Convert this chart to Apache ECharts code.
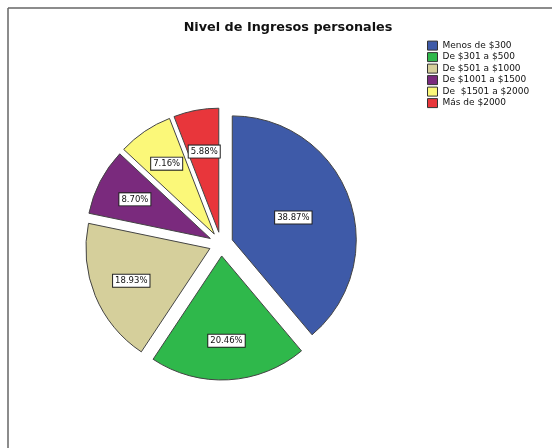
<!DOCTYPE html>
<html>
<head>
<meta charset="utf-8">
<script src="https://cdn.jsdelivr.net/npm/echarts@6/dist/echarts.min.js"></script>
<style>
  html, body { margin: 0; padding: 0; background: #fff; }
  #ingresos { width: 552px; height: 448px; }
</style>
</head>
<body>
<div id="ingresos"></div>
<script>
// categorias y porcentajes
const categorias = ['Menos de $300', 'De $301 a $500', 'De $501 a $1000', 'De $1001 a $1500', 'De  $1501 a $2000', 'Más de $2000'];
const porcentajes = [38.87, 20.46, 18.93, 8.70, 7.16, 5.88];
const colores = ['#3e5aa8', '#2fb84b', '#d5cf9b', '#7a2a7d', '#fbf879', '#e8363b'];

const chart = echarts.init(document.getElementById('ingresos'));

const fmt = p => p.value.toFixed(2) + '%';
const etiqueta = {
    position: 'inside',
    formatter: fmt,
    fontFamily: 'DejaVu Sans',
    fontSize: 8.5,
    color: '#111',
    backgroundColor: '#fff',
    borderColor: '#222',
    borderWidth: 1,
    padding: [2, 2, 1, 2]
};

// serie visible (sin etiquetas salvo la grande)
const datosPie = categorias.map((c, i) => ({
    name: c,
    value: porcentajes[i],
    selected: true,
    itemStyle: { color: colores[i] },
    label: { show: i === 0 }
}));
// serie transparente solo para colocar etiquetas mas afuera
// (la porcion chica no cabe 'inside', asi que va 'outside' con linea negativa)
const datosEtiq = categorias.map((c, i) => {
    const d = { name: c, value: porcentajes[i], selected: true, label: { show: i !== 0 } };
    if (i === categorias.length - 1) {
        d.label.position = 'outside';
        d.label.distanceToLabelLine = 0;
        d.labelLine = { show: false, length: -42, length2: -16 };
    }
    return d;
});

const option = {
    animation: false,
    title: {
        text: 'Nivel de Ingresos personales',
        left: 283,
        textAlign: 'center',
        top: 16,
        textStyle: { fontFamily: 'DejaVu Sans', fontWeight: 'bold', fontSize: 12.8, color: '#111' }
    },
    legend: {
        orient: 'vertical',
        left: 427,
        top: 40,
        padding: 0,
        itemWidth: 10,
        itemHeight: 9,
        itemGap: 0.3,
        icon: 'rect',
        itemStyle: { borderColor: '#333', borderWidth: 1 },
        textStyle: { fontFamily: 'DejaVu Sans', fontSize: 9, lineHeight: 11.2, color: '#111' },
        data: categorias
    },
    graphic: [
        { type: 'line', shape: { x1: 8, y1: 8, x2: 552, y2: 8 }, style: { stroke: '#666', lineWidth: 1.5 } },
        { type: 'line', shape: { x1: 8, y1: 8, x2: 8, y2: 448 }, style: { stroke: '#666', lineWidth: 1.5 } }
    ],
    series: [
        {
            type: 'pie',
            center: [221, 244],
            radius: [0, 124],
            startAngle: 90,
            selectedMode: 'multiple',
            selectedOffset: 12,
            avoidLabelOverlap: false,
            itemStyle: { borderColor: '#444', borderWidth: 1 },
            label: etiqueta,
            labelLine: { show: false },
            emphasis: { disabled: true },
            data: datosPie
        },
        {
            type: 'pie',
            center: [221, 244],
            radius: [40, 124],
            startAngle: 90,
            silent: true,
            selectedMode: 'multiple',
            selectedOffset: 12,
            avoidLabelOverlap: false,
            itemStyle: { color: 'rgba(0,0,0,0)', borderWidth: 0 },
            label: etiqueta,
            labelLine: { show: false },
            emphasis: { disabled: true },
            data: datosEtiq
        }
    ]
};
chart.setOption(option);
</script>
</body>
</html>
